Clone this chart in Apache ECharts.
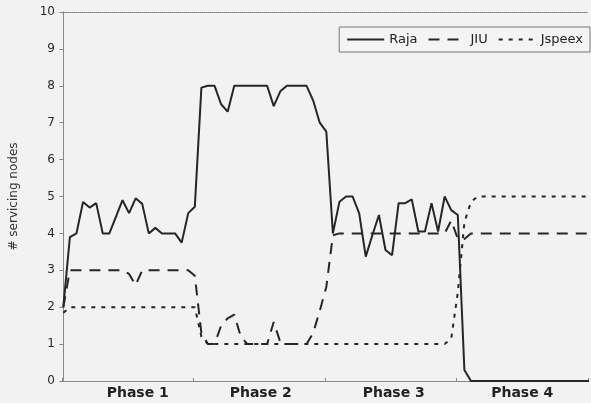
<!DOCTYPE html>
<html>
<head>
<meta charset="utf-8">
<script src="https://cdn.jsdelivr.net/npm/echarts@6/dist/echarts.min.js"></script>
<style>
html,body{margin:0;padding:0;background:#f2f2f2;}
#c{width:591px;height:403px;}
</style>
</head>
<body>
<div id="c"></div>
<script>
// phase labels (x-axis categories)
var phases = ['Phase 1', 'Phase 2', 'Phase 3', 'Phase 4'];
// y tick values
var yTicks = [0, 1, 2, 3, 4, 5, 6, 7, 8, 9, 10];
// series values, one per time step (20 steps per phase)
var raja = [2.0, 3.9, 4.0, 4.85, 4.7, 4.82, 4.0, 4.0, 4.45, 4.9,
            4.55, 4.95, 4.8, 4.0, 4.15, 4.0, 4.0, 4.0, 3.75, 4.55,
            4.72, 7.95, 8.0, 8.0, 7.5, 7.3, 8.0, 8.0, 8.0, 8.0,
            8.0, 8.0, 7.45, 7.85, 8.0, 8.0, 8.0, 8.0, 7.6, 7.0,
            6.76, 4.0, 4.86, 5.0, 5.0, 4.54, 3.37, 3.95, 4.5, 3.55,
            3.41, 4.82, 4.82, 4.92, 4.05, 4.05, 4.82, 4.05, 5.0, 4.63,
            4.5, 0.3, 0, 0, 0, 0, 0, 0, 0, 0,
            0, 0, 0, 0, 0, 0, 0, 0, 0, 0, 0];
var jiu = [2.0, 3.0, 3.0, 3.0, 3.0, 3.0, 3.0, 3.0, 3.0, 3.0,
           2.9, 2.6, 3.0, 3.0, 3.0, 3.0, 3.0, 3.0, 3.0, 3.0,
           2.85, 1.3, 1.0, 1.0, 1.5, 1.7, 1.8, 1.2, 1.0, 1.0,
           1.0, 1.0, 1.6, 1.05, 1.0, 1.0, 1.0, 1.0, 1.3, 1.9,
           2.55, 3.95, 4.0, 4.0, 4.0, 4.0, 4.0, 4.0, 4.0, 4.0,
           4.0, 4.0, 4.0, 4.0, 4.0, 4.0, 4.0, 4.0, 4.0, 4.35,
           3.85, 3.85, 4.0, 4.0, 4.0, 4.0, 4.0, 4.0, 4.0, 4.0,
           4.0, 4.0, 4.0, 4.0, 4.0, 4.0, 4.0, 4.0, 4.0, 4.0, 4.0];
var jspeex = [1.85, 2.0, 2.0, 2.0, 2.0, 2.0, 2.0, 2.0, 2.0, 2.0,
              2.0, 2.0, 2.0, 2.0, 2.0, 2.0, 2.0, 2.0, 2.0, 2.0,
              2.0, 1.2, 1.0, 1.0, 1.0, 1.0, 1.0, 1.0, 1.0, 1.0,
              1.0, 1.0, 1.0, 1.0, 1.0, 1.0, 1.0, 1.0, 1.0, 1.0,
              1.0, 1.0, 1.0, 1.0, 1.0, 1.0, 1.0, 1.0, 1.0, 1.0,
              1.0, 1.0, 1.0, 1.0, 1.0, 1.0, 1.0, 1.0, 1.0, 1.15,
              2.4, 4.3, 4.85, 5.0, 5.0, 5.0, 5.0, 5.0, 5.0, 5.0,
              5.0, 5.0, 5.0, 5.0, 5.0, 5.0, 5.0, 5.0, 5.0, 5.0, 5.0];

var FONT = 'DejaVu Sans';
var INK = '#262626';
var labelShift = [20, 3, 6, 0];

function pts(arr) { return arr.map(function (v, i) { return [i, v]; }); }

var chart = echarts.init(document.getElementById('c'), null, {renderer: 'canvas'});
chart.setOption({
  animation: false,
  backgroundColor: '#f2f2f2',
  textStyle: {fontFamily: FONT},
  grid: {left: 57, right: 3, top: 12, bottom: 22, containLabel: false},
  legend: {
    data: ['Raja', 'JIU', 'Jspeex'],
    right: 1, top: 27,
    orient: 'horizontal',
    itemWidth: 37, itemHeight: 12, itemGap: 10,
    padding: [6, 7],
    borderColor: '#777', borderWidth: 1,
    backgroundColor: '#f4f4f4',
    itemStyle: {color: 'rgba(0,0,0,0)', borderWidth: 0, opacity: 0},
    textStyle: {fontFamily: FONT, fontSize: 13, color: '#222'}
  },
  xAxis: [
    {type: 'value', min: -0.2, max: 79.8, show: false},
    {
      type: 'category', position: 'bottom', boundaryGap: true,
      data: phases.map(function (p, i) {
        return {value: p, textStyle: {padding: [0, 0, 0, labelShift[i]]}};
      }),
      axisLine: {show: true, lineStyle: {color: '#888', width: 1}},
      axisTick: {show: true, inside: true, length: 3, lineStyle: {color: '#888'}},
      axisLabel: {fontFamily: FONT, fontWeight: 'bold', fontSize: 14, color: '#222', margin: 5},
      splitLine: {show: false}
    },
    {
      type: 'category', position: 'top', data: phases,
      axisLine: {show: true, lineStyle: {color: '#777', width: 1, type: [1, 1]}},
      axisTick: {show: false}, axisLabel: {show: false}, splitLine: {show: false}
    }
  ],
  yAxis: {
    type: 'value', min: yTicks[0], max: yTicks[yTicks.length - 1], interval: 1,
    name: '# servicing nodes', nameLocation: 'middle', nameGap: 42,
    nameTextStyle: {fontFamily: FONT, fontSize: 12, color: '#333'},
    axisLine: {show: true, lineStyle: {color: '#888', width: 1}},
    axisTick: {show: true, length: 4, lineStyle: {color: '#888'}},
    axisLabel: {fontFamily: FONT, fontSize: 12, color: '#2a2a2a', margin: 7},
    splitLine: {show: false}
  },
  series: [
    {name: 'Raja', type: 'line', xAxisIndex: 0, data: pts(raja), symbol: 'none',
     lineStyle: {color: INK, width: 2, type: 'solid'}, itemStyle: {color: INK}},
    {name: 'JIU', type: 'line', xAxisIndex: 0, data: pts(jiu), symbol: 'none',
     lineStyle: {color: INK, width: 2, type: [11, 8]}, itemStyle: {color: INK}},
    {name: 'Jspeex', type: 'line', xAxisIndex: 0, data: pts(jspeex), symbol: 'none',
     lineStyle: {color: INK, width: 2, type: [4, 6]}, itemStyle: {color: INK}}
  ]
});
</script>
</body>
</html>
